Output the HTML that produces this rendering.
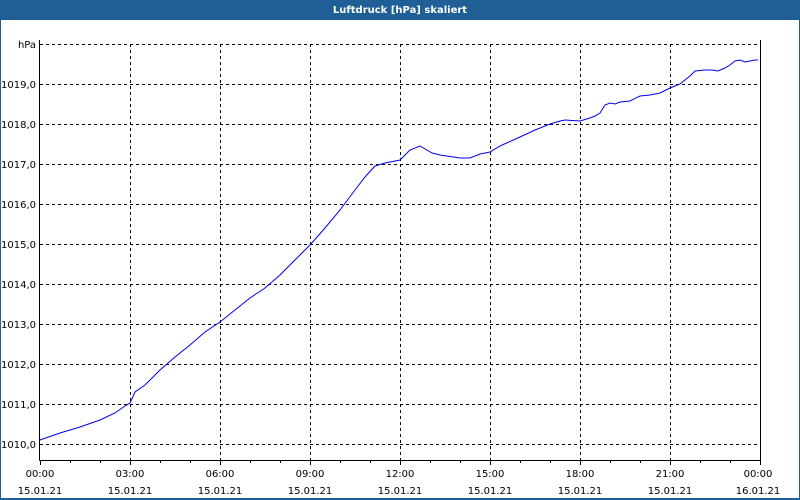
<!DOCTYPE html>
<html><head><style>
body{margin:0;width:800px;height:500px;overflow:hidden;background:#fff;}
svg{display:block}
text{font-family:"DejaVu Sans","Liberation Sans",sans-serif;font-size:10px;fill:#000}
</style></head><body>
<svg width="800" height="500" viewBox="0 0 800 500">
<rect x="0" y="0" width="800" height="500" fill="#1f5f96"/>
<rect x="1" y="20" width="798" height="478" fill="#fff"/>
<text x="400" y="13" text-anchor="middle" style="fill:#fff;font-weight:bold;font-size:10px">Luftdruck [hPa] skaliert</text>
<g stroke="#000" stroke-dasharray="3,3" stroke-width="1">
<line x1="40" y1="44.5" x2="760" y2="44.5"/>
<line x1="40" y1="84.5" x2="760" y2="84.5"/>
<line x1="40" y1="124.5" x2="760" y2="124.5"/>
<line x1="40" y1="164.5" x2="760" y2="164.5"/>
<line x1="40" y1="204.5" x2="760" y2="204.5"/>
<line x1="40" y1="244.5" x2="760" y2="244.5"/>
<line x1="40" y1="284.5" x2="760" y2="284.5"/>
<line x1="40" y1="324.5" x2="760" y2="324.5"/>
<line x1="40" y1="364.5" x2="760" y2="364.5"/>
<line x1="40" y1="404.5" x2="760" y2="404.5"/>
<line x1="40" y1="444.5" x2="760" y2="444.5"/>
<line x1="130.5" y1="44" x2="130.5" y2="460"/>
<line x1="220.5" y1="44" x2="220.5" y2="460"/>
<line x1="310.5" y1="44" x2="310.5" y2="460"/>
<line x1="400.5" y1="44" x2="400.5" y2="460"/>
<line x1="490.5" y1="44" x2="490.5" y2="460"/>
<line x1="580.5" y1="44" x2="580.5" y2="460"/>
<line x1="670.5" y1="44" x2="670.5" y2="460"/>
</g>
<g stroke="#000" stroke-width="1">
<line x1="39.5" y1="40" x2="39.5" y2="460.5"/>
<line x1="39.5" y1="460.5" x2="760.5" y2="460.5"/>
<line x1="760.5" y1="40" x2="760.5" y2="460.5"/>
<path d="M40.5 460v5M70.5 460v3M100.5 460v3M130.5 460v5M160.5 460v3M190.5 460v3M220.5 460v5M250.5 460v3M280.5 460v3M310.5 460v5M340.5 460v3M370.5 460v3M400.5 460v5M430.5 460v3M460.5 460v3M490.5 460v5M520.5 460v3M550.5 460v3M580.5 460v5M610.5 460v3M640.5 460v3M670.5 460v5M700.5 460v3M730.5 460v3M760.5 460v5"/>
</g>
<g text-anchor="end">
<text x="36" y="48">hPa</text>
<text x="36" y="88">1019,0</text>
<text x="36" y="128">1018,0</text>
<text x="36" y="168">1017,0</text>
<text x="36" y="208">1016,0</text>
<text x="36" y="248">1015,0</text>
<text x="36" y="288">1014,0</text>
<text x="36" y="328">1013,0</text>
<text x="36" y="368">1012,0</text>
<text x="36" y="408">1011,0</text>
<text x="36" y="448">1010,0</text>
</g>
<g text-anchor="middle">
<text x="40" y="477">00:00</text><text x="40" y="494">15.01.21</text>
<text x="130" y="477">03:00</text><text x="130" y="494">15.01.21</text>
<text x="220" y="477">06:00</text><text x="220" y="494">15.01.21</text>
<text x="310" y="477">09:00</text><text x="310" y="494">15.01.21</text>
<text x="400" y="477">12:00</text><text x="400" y="494">15.01.21</text>
<text x="490" y="477">15:00</text><text x="490" y="494">15.01.21</text>
<text x="580" y="477">18:00</text><text x="580" y="494">15.01.21</text>
<text x="670" y="477">21:00</text><text x="670" y="494">15.01.21</text>
<text x="758" y="477">00:00</text><text x="758" y="494">16.01.21</text>
</g>
<polyline fill="none" stroke="#0000ee" stroke-width="1" points="40,440 60,433 80,427 100,420 115,413 125,406 130,403 135,392 145,385 160,370 175,357 190,345 205,332 220,322 235,310 250,298 265,288 280,275 295,260 310,245 325,228 340,210 355,190 365,177 375,166 385,163 400,160 410,150 420,146 432,153 440,155 460,158 470,158 480,154 490,152 500,146 520,137 535,130 550,124 560,121 565,120 580,121 590,118 595,116 600,113 605,105 610,103 615,104 620,102 630,101 640,96 650,95 660,93 670,88 675,86 680,84 685,80 690,76 695,71 705,70 712,70 718,71 725,68 730,65 735,61 740,60 745,62 750,61 755,60 758,60"/>
</svg>
</body></html>
